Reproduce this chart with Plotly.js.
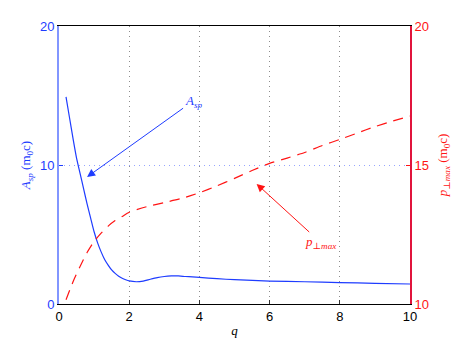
<!DOCTYPE html>
<html>
<head>
<meta charset="utf-8">
<script src="https://cdn.plot.ly/plotly-3.0.1.min.js"></script>
<style>
  html, body { margin: 0; padding: 0; background: white; }
  #chart { width: 453px; height: 343px; }
</style>
</head>
<body>
<div id="chart"></div>
<script>
// A_sp (left axis, m0c)
var qAsp = [0.2, 0.3, 0.4, 0.5, 0.6, 0.7, 0.8, 0.9, 1.0, 1.1, 1.2, 1.3, 1.4, 1.5, 1.6, 1.7, 1.8, 1.9, 2.0,
            2.2, 2.4, 2.6, 2.8, 3.0, 3.2, 3.4, 3.6, 3.8, 4.0, 4.5, 5.0, 6.0, 7.0, 8.0, 9.0, 10.0];
var asp = [14.9, 13.4, 11.9, 10.5, 9.4, 8.3, 7.2, 6.2, 5.2, 4.4, 3.75, 3.2, 2.8, 2.45, 2.2, 2.0, 1.85, 1.74, 1.66,
           1.6, 1.65, 1.78, 1.9, 1.98, 2.02, 2.02, 1.98, 1.95, 1.92, 1.82, 1.75, 1.65, 1.6, 1.54, 1.49, 1.44];

// p_perp max (right axis, m0c)
var qPmax = [0.2, 0.4, 0.6, 0.8, 1.0, 1.2, 1.4, 1.6, 1.8, 2.0, 2.5, 3.0, 3.5, 4.0, 4.5, 5.0, 5.5, 6.0,
             6.5, 7.0, 7.5, 8.0, 8.5, 9.0, 9.5, 10.0];
var pmax = [10.15, 10.8, 11.35, 11.85, 12.25, 12.55, 12.8, 13.0, 13.15, 13.3, 13.5, 13.65, 13.8, 14.0, 14.25, 14.52, 14.8, 15.06,
            15.25, 15.45, 15.7, 15.92, 16.15, 16.38, 16.58, 16.76];

var xTicks = [0, 2, 4, 6, 8, 10];
var yTicks = [0, 10, 20];
var y2Ticks = [10, 15, 20];

var blue = 'rgb(30,60,255)';
var red = 'rgb(255,20,20)';

var traceAsp = {
  x: qAsp, y: asp,
  mode: 'lines',
  line: {color: blue, width: 1.2, shape: 'spline', smoothing: 0.6},
  yaxis: 'y'
};

var tracePmax = {
  x: qPmax, y: pmax,
  mode: 'lines',
  line: {color: red, width: 1.2, dash: '10px,7px', shape: 'spline', smoothing: 0.6},
  yaxis: 'y2'
};

var tickFont = {family: 'Liberation Sans, Arial, sans-serif', size: 13};
var labelFont = {family: 'Liberation Serif, DejaVu Serif, serif', size: 13};

var layout = {
  width: 453,
  height: 343,
  margin: {l: 59, r: 43, t: 26, b: 39},
  plot_bgcolor: 'white',
  paper_bgcolor: 'white',
  showlegend: false,
  xaxis: {
    range: [0, 10],
    tickvals: xTicks,
    ticks: 'inside', ticklen: 4, tickcolor: '#333',
    tickfont: Object.assign({color: 'black'}, tickFont),
    showline: true, linecolor: 'black', linewidth: 1, mirror: true,
    showgrid: true, gridcolor: 'rgb(140,140,140)', griddash: '1px,4px', gridwidth: 1,
    zeroline: false,
    title: {text: '<i>q</i>', font: Object.assign({color: 'black'}, labelFont), standoff: 3}
  },
  yaxis: {
    range: [0, 20],
    tickvals: yTicks,
    ticks: 'inside', ticklen: 4, tickcolor: blue,
    tickfont: Object.assign({color: blue}, tickFont),
    showline: true, linecolor: 'rgb(130,150,255)', linewidth: 2,
    showgrid: true, gridcolor: 'rgb(150,165,255)', griddash: '1px,4px', gridwidth: 1,
    zeroline: false,
    title: {text: '<i>A</i><sub><i>sp</i></sub> (m<sub>0</sub>c)', font: Object.assign({color: blue}, labelFont), standoff: 6}
  },
  yaxis2: {
    overlaying: 'y',
    side: 'right',
    range: [10, 20],
    tickvals: y2Ticks,
    ticks: 'inside', ticklen: 4, tickcolor: red,
    tickfont: Object.assign({color: red}, tickFont),
    showline: true, linecolor: 'rgb(225,20,60)', linewidth: 2,
    showgrid: false,
    zeroline: false,
    title: {text: '<i>p</i><sub>⊥<i>max</i></sub> (m<sub>0</sub>c)', font: Object.assign({color: red}, labelFont), standoff: 10}
  },
  annotations: [
    {
      x: 0.8, y: 9.14, xref: 'x', yref: 'y',
      ax: 3.82, ay: 14.6, axref: 'x', ayref: 'y',
      text: '<i>A</i><sub><i>sp</i></sub>',
      font: Object.assign({color: blue}, labelFont),
      showarrow: true, arrowhead: 2, arrowsize: 1.6, arrowwidth: 1, arrowcolor: blue,
      standoff: 0, startstandoff: 0
    },
    {
      x: 5.63, y: 14.32, xref: 'x', yref: 'y2',
      ax: 7.44, ay: 12.23, axref: 'x', ayref: 'y2',
      text: '<i>p</i><sub>⊥<i>max</i></sub>',
      font: Object.assign({color: red}, labelFont),
      showarrow: true, arrowhead: 2, arrowsize: 1.6, arrowwidth: 1, arrowcolor: red,
      standoff: 0, startstandoff: 0
    }
  ]
};

Plotly.newPlot('chart', [tracePmax, traceAsp], layout, {displayModeBar: false, staticPlot: true});
</script>
</body>
</html>
